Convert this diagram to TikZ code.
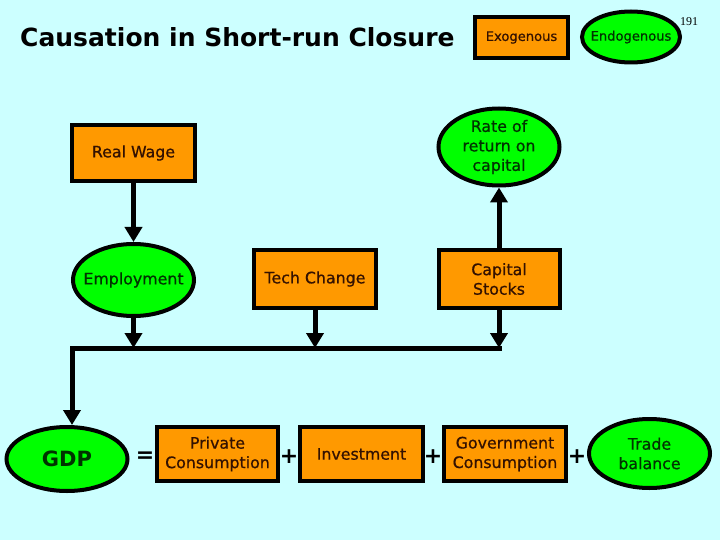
\documentclass[tikz,border=0pt]{standalone}
\usepackage{fontspec}
\setmainfont{DejaVu Sans}
\newfontfamily\bodyfont[FakeBold=0.7]{DejaVu Sans}
\newfontfamily\numfont{Liberation Serif}
\usetikzlibrary{shapes.geometric,arrows.meta}
\definecolor{bgc}{HTML}{CCFFFF}
\definecolor{orng}{HTML}{FF9900}
\definecolor{grn}{HTML}{00FF00}
\definecolor{boxtxt}{HTML}{331100}
\definecolor{elltxt}{HTML}{003300}
\tikzset{
  exo/.style={draw=black, line width=4pt, fill=orng, rectangle, inner sep=0pt,
    align=center, text=boxtxt, font=\bodyfont\fontsize{15.8}{19.5}\selectfont},
  endo/.style={draw=black, line width=4pt, fill=grn, ellipse, inner xsep=-16pt, inner ysep=-4pt,
    align=center, text=elltxt, font=\bodyfont\fontsize{15.8}{19.5}\selectfont},
  flow/.style={line width=5pt, -{Triangle[length=15pt,width=17pt]}},
  busline/.style={line width=5pt, line join=miter},
  op/.style={font=\fontsize{22}{22}\selectfont\bfseries, inner sep=0pt}
}
\begin{document}
\begin{tikzpicture}[x=1pt,y=-1pt]
\fill[bgc] (0,0) rectangle (720,540);
\useasboundingbox (0,0) rectangle (720,540);

% title and legend
\node[anchor=west, inner sep=0pt, font=\fontsize{25}{28}\selectfont\bfseries] (title) at (20,37) {Causation in Short-run Closure};
\node[exo, minimum width=93pt, minimum height=41pt, font=\bodyfont\fontsize{13.1}{16}\selectfont] (legexo) at (521.5,37.5) {Exogenous};
\node[endo, minimum width=98pt, minimum height=51pt, font=\bodyfont\fontsize{13.1}{16}\selectfont] (legendo) at (631,37) {Endogenous};
\node[font=\numfont\fontsize{12}{12}\selectfont, inner sep=0pt] (pg) at (689,22) {191};

% upper nodes
\node[exo, minimum width=123pt, minimum height=56pt] (rw) at (133.5,153) {Real Wage};
\node[endo, minimum width=121pt, minimum height=72pt] (emp) at (133.5,280) {Employment};
\node[exo, minimum width=122pt, minimum height=58pt] (tech) at (315,279) {Tech Change};
\node[exo, minimum width=121pt, minimum height=58pt] (cap) at (499,279) {Capital\\Stocks};
\node[endo, minimum width=121pt, minimum height=77pt] (ror) at (499,147) {Rate of\\return on\\capital};

% bus
\coordinate (bus0) at (72,348);
\coordinate (busE) at (133.5,348);
\coordinate (busT) at (315,348);
\coordinate (busC) at (499,348);

% bottom row
\node[endo, minimum width=121pt, minimum height=64pt, font=\fontsize{21}{24}\selectfont\bfseries] (gdp) at (67,459) {GDP};
\node[op] (eq) at (145,457) {=};
\node[exo, minimum width=121pt, minimum height=54pt] (pc) at (217.5,454) {Private\\Consumption};
\node[op] (p1) at (289,457) {+};
\node[exo, minimum width=123pt, minimum height=54pt] (inv) at (361.5,454) {Investment};
\node[op] (p2) at (433,457) {+};
\node[exo, minimum width=122pt, minimum height=54pt] (gov) at (505,454) {Government\\Consumption};
\node[op] (p3) at (577,457) {+};
\node[endo, minimum width=121pt, minimum height=69pt] (tb) at (649.5,453.5) {Trade\\balance};

% connectors
\draw[flow] (rw) -- (emp);
\draw[flow] (cap) -- (ror);
\draw[flow] (emp) -- (busE);
\draw[flow] (tech) -- (busT);
\draw[flow] (cap) -- (busC);
\draw[busline] ([xshift=2.5pt]busC) -- (bus0) -- ++(0,2);
\draw[flow] (bus0) -- (gdp.north -| bus0);
\end{tikzpicture}
\end{document}
